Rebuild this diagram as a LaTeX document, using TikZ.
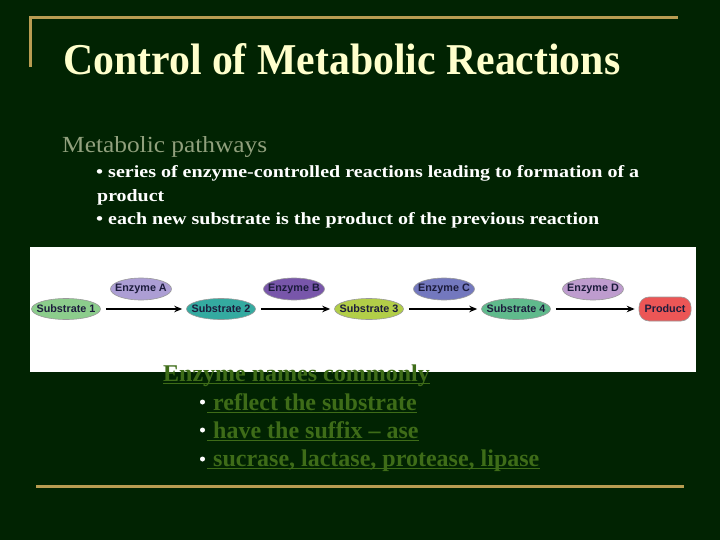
\documentclass[tikz,border=0pt]{standalone}
\usepackage{fontspec}
\setmainfont{Liberation Serif}
\newfontfamily\arialf{Liberation Sans}
\usetikzlibrary{shapes.geometric,arrows.meta}
\definecolor{bg}{RGB}{1,35,2}
\definecolor{gold}{RGB}{184,156,82}
\definecolor{cream}{RGB}{255,255,204}
\definecolor{mpcol}{RGB}{145,160,125}
\definecolor{egreen}{RGB}{62,108,24}
\definecolor{navytext}{RGB}{28,28,60}
\definecolor{cS1}{RGB}{140,205,140}
\definecolor{cEA}{RGB}{172,158,212}
\definecolor{cS2}{RGB}{52,170,160}
\definecolor{cEB}{RGB}{120,86,170}
\definecolor{cS3}{RGB}{178,206,72}
\definecolor{cEC}{RGB}{115,120,190}
\definecolor{cS4}{RGB}{96,186,140}
\definecolor{cED}{RGB}{190,156,206}
\definecolor{cP}{RGB}{236,86,86}
\begin{document}
\begin{tikzpicture}[x=1pt,y=-1pt,
  goldline/.style={draw=gold, line width=3pt},
  subst/.style={ellipse, draw=black!40, line width=0.6pt, minimum width=69pt, minimum height=21pt, inner sep=0pt},
  enz/.style={subst, minimum width=61pt, minimum height=22pt},
  prod/.style={rectangle, rounded corners=10pt, draw=black!40, line width=0.6pt, minimum width=52pt, minimum height=24pt, inner sep=0pt},
  lbl/.style={inner sep=0pt, font=\arialf\bfseries\fontsize{10.8}{11}\selectfont, text=navytext},
  rxn/.style={-{Stealth[length=8pt,width=6.5pt]}, line width=2.3pt, shorten <=5pt, shorten >=4pt},
  txt/.style={anchor=base west, inner sep=0pt},
  etxt/.style={txt, text=egreen, font=\bfseries\fontsize{24}{28}\selectfont},
  uline/.style={draw=egreen, line width=1.8pt},
  dot/.style={circle, fill=white, inner sep=0pt, minimum size=5pt}
]
\useasboundingbox (0,0) rectangle (720,540);
\fill[bg] (0,0) rectangle (720,540);
% gold frame lines
\draw[goldline] (30,67) -- (30,18) -- (678,18);
\draw[goldline] (36,486) -- (684,486);
% title
\node[txt, text=cream] (title) at (63,75) {\resizebox{557pt}{31pt}{\bfseries Control of Metabolic Reactions}};
\node[txt, text=mpcol] (mp) at (62,153) {\resizebox{205pt}{16pt}{Metabolic pathways}};
\node[txt, text=white] (l1) at (96,178) {\resizebox{543pt}{12pt}{\bfseries \textbullet\ series of enzyme-controlled reactions leading to formation of a}};
\node[txt, text=white] (l2) at (97,201) {\resizebox{67pt}{12pt}{\bfseries product}};
\node[txt, text=white] (l3) at (96,225) {\resizebox{503pt}{12pt}{\bfseries \textbullet\ each new substrate is the product of the previous reaction}};
% diagram panel
\fill[white] (30,247) rectangle (696,372);
\node[subst, fill=cS1] (s1) at (66,309) {};
\node[subst, fill=cS2] (s2) at (221,309) {};
\node[subst, fill=cS3] (s3) at (369,309) {};
\node[subst, fill=cS4] (s4) at (516,309) {};
\node[prod, fill=cP] (p) at (665,309) {};
\node[enz, fill=cEA] (ea) at (141,289) {};
\node[enz, fill=cEB] (eb) at (294,289) {};
\node[enz, fill=cEC] (ec) at (444,289) {};
\node[enz, fill=cED] (ed) at (593,289) {};
\node[lbl] (s1t) at (s1) {Substrate 1};
\node[lbl] (s2t) at (s2) {Substrate 2};
\node[lbl] (s3t) at (s3) {Substrate 3};
\node[lbl] (s4t) at (s4) {Substrate 4};
\node[lbl] (pt) at (p) {Product};
\node[lbl] (eat) at (ea) {Enzyme A};
\node[lbl] (ebt) at (eb) {Enzyme B};
\node[lbl] (ect) at (ec) {Enzyme C};
\node[lbl] (edt) at (ed) {Enzyme D};
\draw[rxn] (s1) -- (s2);
\draw[rxn] (s2) -- (s3);
\draw[rxn] (s3) -- (s4);
\draw[rxn] (s4) -- (p);
% enzyme names text
\node[etxt] (en) at (163,381) {Enzyme names commonly};
\draw[uline] ([yshift=-2.5pt]en.base west) -- ([yshift=-2.5pt]en.base east);
\node[dot] (b1) at (202.5,402) {};
\node[dot] (b2) at (202.5,430) {};
\node[dot] (b3) at (202.5,459) {};
\node[etxt] (r1) at (207,410) {\hspace*{6pt}reflect the substrate};
\node[etxt] (r2) at (207,438) {\hspace*{6pt}have the suffix -- ase};
\node[etxt] (r3) at (207,466) {\hspace*{6pt}sucrase, lactase, protease, lipase};
\draw[uline] ([yshift=-2.5pt]r1.base west) -- ([yshift=-2.5pt]r1.base east);
\draw[uline] ([yshift=-2.5pt]r2.base west) -- ([yshift=-2.5pt]r2.base east);
\draw[uline] ([yshift=-2.5pt]r3.base west) -- ([yshift=-2.5pt]r3.base east);
\end{tikzpicture}
\end{document}
